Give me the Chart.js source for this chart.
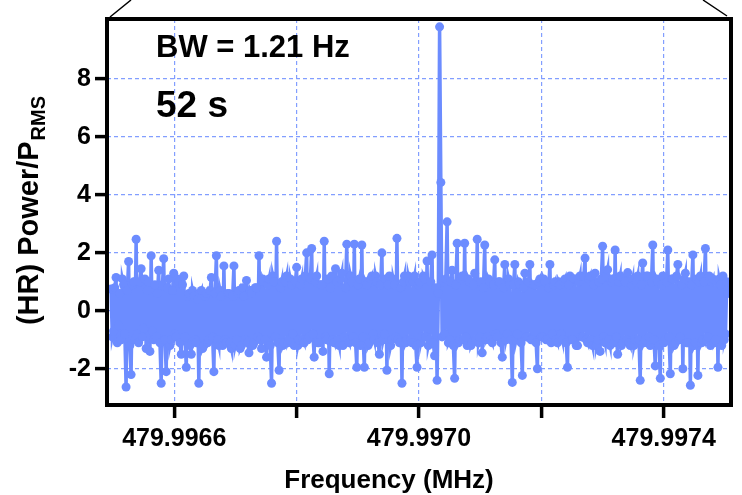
<!DOCTYPE html>
<html>
<head>
<meta charset="utf-8">
<script src="https://cdn.jsdelivr.net/npm/chart.js@4.4.1/dist/chart.umd.min.js"></script>
<style>
  html, body { margin: 0; padding: 0; background: #fff; }
  #wrap { width: 742px; height: 495px; }
</style>
</head>
<body>
<div id="wrap"><canvas id="myChart" width="742" height="495"></canvas></div>
<script>
// frequency grid (MHz)
const freqStart = 479.9964966
const binStep = 0.0000020498
const xMin = 479.99649
const xMax = 479.99751
const xTicks = [479.9966, 479.9968, 479.9970, 479.9972, 479.9974]
const xLabelTicks = [479.9966, 479.9970, 479.9974]

const yMin = -3.25
const yMax = 10.07
const yTicks = [-2, 0, 2, 4, 6, 8]

// (HR) power / P_RMS per bin left to right
const power = [
    0.75, -0.9, -0.7, 0.8, 1.15, -1.1, -0.5, 0.6, -1.0, 1.1, 0.9, -0.8, -2.63, 0.7, 1.7, -1.2, -2.2, 0.9, 1.0, -1.0,
    2.47, -0.8, -1.1, 1.0, 1.45, -0.9, -0.6, 1.1, -1.3, 0.7, 1.0, -1.4, 1.9, -0.7, -1.0, 0.9, -0.9, 0.6, 1.4, -1.1,
    -2.5, 0.9, 1.8, -1.0, -2.1, 0.8, 1.1, -1.2, -1.0, 0.7, 1.3, -0.8, -0.9, 1.1, 1.0, -1.1, -1.5, 0.9, 1.2, -0.9,
    -1.95, 0.5, 0.6, -1.2, -1.5, 0.7, 0.5, -1.0, -1.1, 0.4, -2.5, 0.6, 0.7, -1.3, -1.2, 0.5, 0.6, -1.1, -1.0, 0.7,
    1.15, -0.9, -2.1, 0.6, 1.9, -1.0, -1.2, 0.7, 0.5, -1.2, 1.55, -1.0, -1.1, 0.6, 0.6, -1.1, -1.3, 0.5, 1.55, -1.2,
    -1.0, 0.6, 0.7, -1.3, -1.2, 0.8, 0.5, -1.0, 1.05, -1.1, -1.45, 0.7, 0.6, -1.2, -1.1, 0.8, 0.8, -0.9, 1.9, -1.0,
    -1.3, 1.1, 1.0, -1.0, -1.6, 0.9, 1.1, -1.2, -2.5, 1.2, 1.0, -0.9, 2.4, -1.1, -2.05, 0.8, 1.0, -1.2, -1.1, 1.0,
    1.2, -1.1, -1.0, 1.1, 0.9, -0.8, -1.2, 1.0, 1.5, -1.2, -1.0, 0.9, 1.1, -1.0, -1.1, 1.2, 2.0, -1.0, -0.9, 1.1,
    2.15, -0.8, -1.6, 1.0, 1.2, -1.1, -1.1, 0.9, 0.9, -1.4, 2.4, -0.9, -1.0, 1.1, -2.17, 0.8, 1.2, -1.0, -1.1, 1.45,
    1.0, -1.0, -1.2, 1.1, 1.3, -1.2, -0.9, 0.8, 2.3, -1.0, -1.1, 1.2, 1.0, -0.9, 2.3, -1.1, -1.95, 0.9, 1.1, -1.2,
    2.27, -0.9, -1.95, 1.0, 0.9, -1.2, -1.1, 1.1, 1.2, -0.8, -1.0, 1.2, 1.0, -1.1, -1.5, 0.9, 2.0, -1.0, -0.8, 1.1,
    -2.05, 0.9, 1.2, -1.2, -1.0, 1.1, 0.9, -0.9, 2.5, -1.0, -1.1, 0.8, -2.5, 1.0, 1.2, -1.1, -1.0, 1.2, 1.0, -1.0,
    -1.1, 1.0, 1.2, -1.2, -1.95, 0.9, 1.0, -1.1, -0.9, 1.2, 1.1, -0.9, 1.72, -1.2, -1.0, 1.0, 1.93, -1.1, -1.55, 0.8,
    -2.4, 0.6, 9.8, 4.43, -0.9, 1.0, -0.8, 1.1, 3.07, -1.1, -1.0, 1.0, 1.4, -1.2, -2.33, 0.9, 2.33, -1.1, -1.0, 1.1,
    1.2, -1.0, 2.33, -0.9, -1.2, 1.1, 1.0, -1.2, -1.1, 0.9, 1.3, -1.0, 2.47, -1.1, -0.9, 1.0, -1.45, 0.8, 2.27, -1.0,
    -0.9, 1.1, 1.0, -1.0, -1.1, 0.9, 1.76, -0.8, -0.9, 1.0, 1.0, -1.1, -1.6, 0.8, 1.6, -1.0, -0.8, 1.1, 0.9, -1.0,
    -2.47, 0.9, 1.6, -1.0, -0.8, 1.0, 0.9, -1.1, -2.23, 0.8, 1.3, -0.9, -0.9, 1.0, 1.6, -1.0, -1.0, 0.9, 0.9, -1.1,
    -2.0, 1.0, 1.1, -0.9, -0.9, 1.1, 1.0, -1.0, -1.0, 0.8, 1.6, -1.1, -0.8, 0.9, 1.0, -1.0, -1.1, 1.0, 0.9, -0.8,
    -1.0, 1.0, 1.1, -1.1, -1.95, 0.9, 1.2, -1.0, -1.0, 1.1, 1.1, -1.2, -1.2, 1.0, 1.2, -0.9, -0.9, 1.2, 1.82, -1.0,
    -1.1, 1.1, 1.2, -1.0, -1.2, 0.9, 1.3, -1.2, -1.0, 1.0, -1.4, 1.1, 2.23, -0.9, -1.1, 1.2, 1.42, -1.0, -1.2, 1.0,
    1.1, -1.1, 2.1, -0.9, -1.5, 1.0, 1.2, -1.2, -1.1, 1.1, 1.0, -1.0, 1.32, -1.1, -1.2, 0.9, 1.1, -1.2, -1.0, 1.0,
    1.2, -1.0, -2.4, 0.9, 1.65, -1.1, -1.0, 1.2, 1.2, -0.9, -1.2, 1.0, 2.27, -1.0, -1.9, 1.1, 1.0, -1.2, -2.33, 0.9,
    1.2, -1.1, -1.0, 1.0, 2.1, -0.9, -2.17, 1.1, 1.1, -1.2, -1.1, 1.2, 1.6, -1.0, -0.9, 0.9, -2.0, 1.1, 1.3, -1.1,
    -1.1, 1.0, -2.57, 0.9, 1.93, -1.2, -1.1, 1.1, -2.23, 1.0, 1.2, -1.1, -1.0, 1.0, 2.15, -1.0, -0.9, 1.2, -1.2, 1.0,
    1.1, -1.1, -1.0, 1.0, -1.95, 1.1, 0.9, -1.2, 1.2, -1.0, -0.8, 1.0, 0.6
]

const bwText = 'BW = 1.21 Hz'
const timeText = '52 s'

const blue = 'rgb(108,140,255)'
const gridBlue = 'rgb(130,158,255)'
const font = '"Liberation Sans", Arial, sans-serif'

function prepData(vals){
    var pts = []
    for (let i = 0; i < vals.length; i++) {
        pts.push({x: freqStart + i * binStep, y: vals[i]})
    }
    return pts
}

// frame, zoom marker lines, titles and labels
const decor = {
    id: 'decor',
    afterDraw(chart){
        const c = chart.ctx
        const a = chart.chartArea
        c.save()
        c.strokeStyle = '#000'
        c.lineWidth = 1.5
        c.beginPath()
        c.moveTo(a.left + 3, a.top - 2); c.lineTo(a.left + 24, 0)
        c.moveTo(a.right - 4, a.top - 3); c.lineTo(a.right - 28, 0)
        c.stroke()

        c.lineWidth = 4
        c.strokeRect(a.left, a.top, a.right - a.left, a.bottom - a.top)

        c.fillStyle = '#000'
        c.textBaseline = 'alphabetic'
        c.textAlign = 'left'
        c.font = 'bold 31px ' + font
        c.fillText(bwText, 156, 57)
        c.font = 'bold 37px ' + font
        c.fillText(timeText, 156, 117)

        c.textAlign = 'center'
        c.font = 'bold 26px ' + font
        c.fillText('Frequency (MHz)', 389, 488)

        // y title with subscript
        c.translate(38, 211)
        c.rotate(-Math.PI / 2)
        c.textAlign = 'left'
        const main = '(HR) Power/P'
        c.font = 'bold 29px ' + font
        const w1 = c.measureText(main).width
        c.font = 'bold 20px ' + font
        const w2 = c.measureText('RMS').width
        const x0 = -(w1 + w2) / 2
        c.font = 'bold 29px ' + font
        c.fillText(main, x0, 0)
        c.font = 'bold 20px ' + font
        c.fillText('RMS', x0 + w1 + 1, 7)
        c.restore()
    }
}

function makechart(docID, vals){
    const ctx = document.getElementById(docID)
    const myChart = new Chart(ctx, {
        type: 'line',
        data: {
            datasets: [{
                label: 'power',
                data: prepData(vals),
                borderColor: blue,
                backgroundColor: blue,
                borderWidth: 3.5,
                pointRadius: 4.5,
                pointBorderWidth: 0,
                tension: 0
            }]
        },
        options: {
            responsive: false,
            animation: false,
            layout: { padding: { left: 0, right: 11, top: 11, bottom: 0 } },
            plugins: { legend: { display: false }, tooltip: { enabled: false } },
            scales: {
                x: {
                    type: 'linear',
                    min: xMin,
                    max: xMax,
                    afterBuildTicks: function(s){ s.ticks = xTicks.map(v => ({value: v})) },
                    afterFit: function(s){ s.height = 90 },
                    border: { display: false, dash: [4, 3] },
                    grid: {
                        color: gridBlue,
                        lineWidth: 1.2,
                        drawTicks: true,
                        tickLength: 13,
                        tickColor: '#000',
                        tickWidth: 3.5,
                        tickBorderDash: []
                    },
                    ticks: {
                        color: '#000',
                        padding: 6,
                        maxRotation: 0,
                        autoSkip: false,
                        font: { family: font, size: 25, weight: 'bold' },
                        callback: function(v){
                            for (const t of xLabelTicks) {
                                if (Math.abs(v - t) < 1e-7) return t.toFixed(4)
                            }
                            return ''
                        }
                    }
                },
                y: {
                    min: yMin,
                    max: yMax,
                    afterBuildTicks: function(s){ s.ticks = yTicks.map(v => ({value: v})) },
                    afterFit: function(s){ s.width = 107 },
                    border: { display: false, dash: [4, 3] },
                    grid: {
                        color: gridBlue,
                        lineWidth: 1.2,
                        drawTicks: true,
                        tickLength: 12,
                        tickColor: '#000',
                        tickWidth: 3.5,
                        tickBorderDash: []
                    },
                    ticks: {
                        color: '#000',
                        padding: 4,
                        font: { family: font, size: 25, weight: 'bold' }
                    }
                }
            }
        },
        plugins: [decor]
    })
    return myChart
}

makechart('myChart', power)
</script>
</body>
</html>
